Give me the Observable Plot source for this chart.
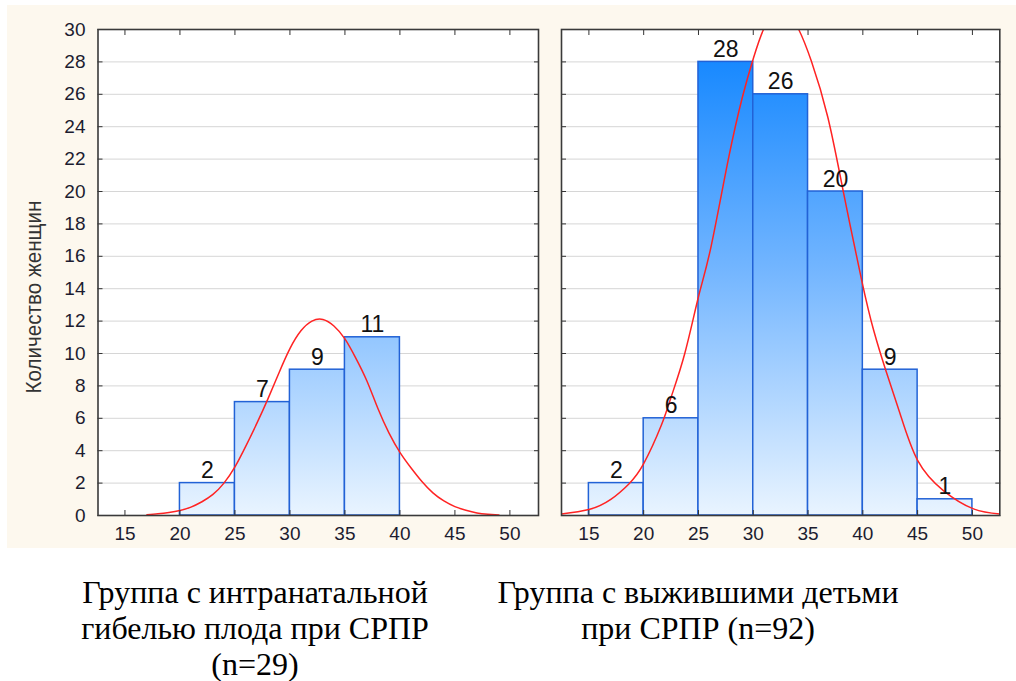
<!DOCTYPE html>
<html><head><meta charset="utf-8">
<script src="https://cdn.jsdelivr.net/npm/d3@7"></script>
<script src="https://cdn.jsdelivr.net/npm/@observablehq/plot@0.6"></script>
<style>
body{margin:0;background:#fff;}
#page{position:relative;width:1016px;height:681px;overflow:hidden;background:#fff;}
#cream{position:absolute;left:7px;top:5px;width:1009px;height:543px;background:#fdf8ee;}
.chart{position:absolute;top:0;}
.cap{position:absolute;top:574px;font-family:"Liberation Serif","Times New Roman",serif;font-size:32px;line-height:36px;text-align:center;color:#000;white-space:nowrap;transform:translateX(-50%);}
</style></head><body>
<div id="page">
<div id="cream"></div>
<div id="left" class="chart" style="left:0px"></div>
<div id="right" class="chart" style="left:545px"></div>
<div class="cap" style="left:255px">Группа с интранатальной<br>гибелью плода при СРПР<br>(n=29)</div>
<div class="cap" style="left:698px">Группа с выжившими детьми<br>при СРПР (n=92)</div>
</div>
<script>
// ---- data ----
const xTicks = [15, 20, 25, 30, 35, 40, 45, 50];
const yTicks = [0, 2, 4, 6, 8, 10, 12, 14, 16, 18, 20, 22, 24, 26, 28, 30];
const yTitle = "Количество женщин";

const leftLower  = [20, 25, 30, 35];
const leftUpper  = [25, 30, 35, 40];
const leftCounts = [2, 7, 9, 11];

const rightLower  = [15, 20, 25, 30, 35, 40, 45];
const rightUpper  = [20, 25, 30, 35, 40, 45, 50];
const rightCounts = [2, 6, 28, 26, 20, 9, 1];

// fitted normal curves
const leftCurveX = [17, 18, 19, 20, 21, 22, 23, 24, 25, 26, 27, 28, 29, 30, 31, 32, 33, 34, 35, 36, 37, 38, 39, 40, 41, 42, 43, 44, 45, 46, 47, 48, 49];
const leftCurveY = [0.05, 0.11, 0.19, 0.31, 0.52, 0.85, 1.3, 2.0, 3.0, 4.3, 5.7, 7.2, 8.8, 10.3, 11.4, 12.0, 12.1, 11.7, 10.9, 9.7, 8.3, 6.6, 5.1, 3.9, 2.95, 2.1, 1.4, 0.9, 0.55, 0.32, 0.16, 0.08, 0.03];

const rightCurveX = [12.5, 15, 17, 18.65, 20, 21.6, 22.5, 23.75, 25, 26.15, 27.7, 29, 30, 31, 31.8, 32.6, 33.4, 34.15, 35.3, 36.8, 38.2, 39.9, 41, 42.1, 43.4, 45, 47.35, 50.1, 52.5];
const rightCurveY = [0.1, 0.37, 1.0, 1.95, 3.2, 5.55, 7.3, 10.0, 13.5, 16.6, 21.9, 25.8, 28.2, 30.1, 30.7, 30.9, 30.7, 30.0, 28.05, 24.6, 20.06, 14.5, 11.4, 8.95, 6.28, 3.4, 1.54, 0.41, 0.1];

// ---- helpers ----
const bins = (lo, hi, c) => lo.map((d, i) => ({lo: d, hi: hi[i], count: c[i]}));
const pts = (xs, ys) => xs.map((x, i) => ({x, y: ys[i]}));

function addGradient(svg, id, yTop, yBottom) {
  const ns = "http://www.w3.org/2000/svg";
  const defs = document.createElementNS(ns, "defs");
  const g = document.createElementNS(ns, "linearGradient");
  g.setAttribute("id", id);
  g.setAttribute("gradientUnits", "userSpaceOnUse");
  g.setAttribute("x1", 0); g.setAttribute("x2", 0);
  g.setAttribute("y1", yTop); g.setAttribute("y2", yBottom);
  [["0%", "#0a82ff"], ["50%", "#74b6ff"], ["100%", "#e9f4ff"]].forEach(([o, c]) => {
    const s = document.createElementNS(ns, "stop");
    s.setAttribute("offset", o); s.setAttribute("stop-color", c);
    g.appendChild(s);
  });
  defs.appendChild(g);
  svg.insertBefore(defs, svg.firstChild);
}

function panel({width, marginLeft, marginRight, domain, data, curve, gradId, showYLabels}) {
  const marks = [
    Plot.frame({fill: "white", stroke: null}),
    Plot.gridY(yTicks, {stroke: "#d6d6d6", strokeOpacity: 1, strokeWidth: 1}),
    Plot.rect(data, {x1: "lo", x2: "hi", y1: () => 0, y2: "count", fill: `url(#${gradId})`, stroke: "#2262d6", strokeWidth: 1.5}),
    Plot.line(curve, {x: "x", y: "y", stroke: "#ff2323", strokeWidth: 1.5, curve: "natural", clip: true}),
    Plot.text(data, {x: d => (d.lo + d.hi) / 2, y: "count", text: d => String(d.count), dy: -5, lineAnchor: "bottom", fontSize: 23, fill: "#111"}),
    Plot.axisY(yTicks, {anchor: "left", tickSize: -5, tickFormat: () => "", label: null, stroke: "#333"}),
    Plot.axisY(yTicks, {anchor: "right", tickSize: -5, tickFormat: () => "", label: null, stroke: "#333"}),
    Plot.axisX(xTicks, {anchor: "bottom", tickSize: 0, tickPadding: 11, label: null, fontSize: 19, fill: "#1c1c30"}),
    Plot.axisX(xTicks, {anchor: "bottom", tickSize: -5, tickFormat: () => "", label: null, stroke: "#333"}),
    Plot.axisX(xTicks, {anchor: "top", tickSize: -5, tickFormat: () => "", label: null, stroke: "#333"}),
    Plot.frame({stroke: "#3a3a3a", strokeWidth: 1.6})
  ];
  if (showYLabels) {
    marks.push(Plot.axisY(yTicks, {anchor: "left", tickSize: 0, tickPadding: 12.5, label: null, fontSize: 19, fill: "#1c1c30"}));
    marks.push(Plot.text([yTitle], {frameAnchor: "left", textAnchor: "middle", dx: -64.5, dy: 24.5, rotate: -90, fontSize: 22, fill: "#333", className: "ytitle"}));
  }
  const svg = Plot.plot({
    width, height: 550,
    marginLeft, marginRight, marginTop: 29, marginBottom: 35,
    x: {domain},
    y: {domain: [0, 30]},
    style: {background: "transparent", fontFamily: "Liberation Sans, Arial, sans-serif", fontSize: "19px", color: "#222", overflow: "visible"},
    marks
  });
  const ys = svg.scale("y");
  addGradient(svg, gradId, ys.apply(30), ys.apply(0));
  const t = svg.querySelector(".ytitle text");
  if (t) { t.setAttribute("textLength", 193); t.setAttribute("lengthAdjust", "spacingAndGlyphs"); }
  return svg;
}

document.getElementById("left").appendChild(panel({
  width: 545, marginLeft: 97.5, marginRight: 7, domain: [12.55, 52.6],
  data: bins(leftLower, leftUpper, leftCounts), curve: pts(leftCurveX, leftCurveY),
  gradId: "gradL", showYLabels: true
}));
document.getElementById("right").appendChild(panel({
  width: 471, marginLeft: 16, marginRight: 16.7, domain: [12.5, 52.5],
  data: bins(rightLower, rightUpper, rightCounts), curve: pts(rightCurveX, rightCurveY),
  gradId: "gradR", showYLabels: false
}));
</script>
</body></html>
